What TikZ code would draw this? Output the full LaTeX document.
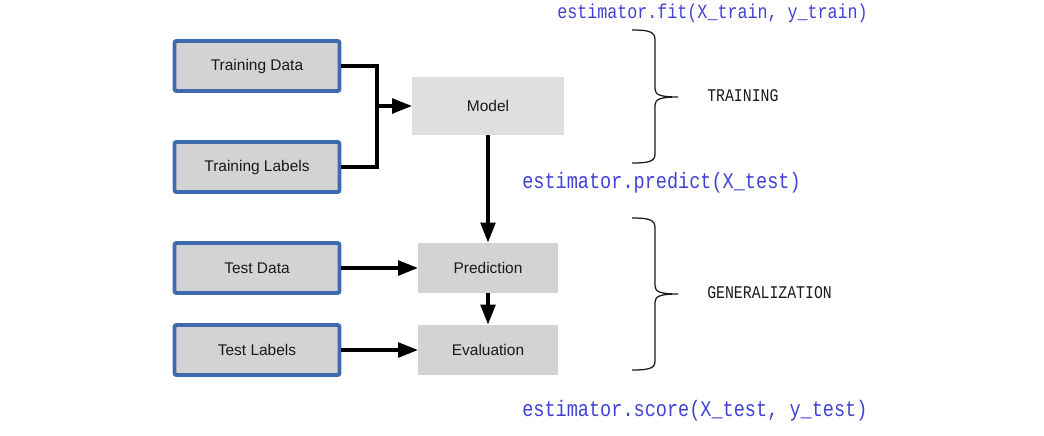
\documentclass[tikz,border=0pt]{standalone}
\usepackage{fontspec}
\setmainfont{Liberation Sans}
\newfontfamily\codefont[FakeStretch=0.83]{Liberation Mono}
\usetikzlibrary{arrows.meta}
\definecolor{ink}{HTML}{1A1A1A}
\definecolor{frameblue}{HTML}{3D6BAE}
\definecolor{boxgray}{HTML}{D3D3D3}
\definecolor{modelgray}{HTML}{DFDFDF}
\definecolor{codeblue}{HTML}{4141D6}
\tikzset{
  every node/.style={font=\fontsize{11pt}{13pt}\selectfont, text=ink},
  databox/.style={draw=frameblue, line width=2.8pt, rounded corners=1.5pt, fill=boxgray,
                  minimum width=4.125cm, minimum height=1.25cm},
  stagebox/.style={fill=boxgray, minimum width=3.475cm, minimum height=1.25cm},
  modelbox/.style={stagebox, fill=modelgray, minimum width=3.775cm, minimum height=1.425cm},
  wire/.style={line width=2.8pt, draw=black},
  arr/.style={wire, -{Triangle[length=5mm, width=3.6mm]}},
  grp/.style={line width=0.9pt, draw=ink},
  code/.style={font=\codefont\fontsize{15.9pt}{18pt}\selectfont, text=codeblue, anchor=west, inner sep=0pt},
  phase/.style={font=\codefont\fontsize{12.7pt}{15pt}\selectfont, text=ink, anchor=west, inner sep=0pt},
}

\begin{document}
\begin{tikzpicture}[x=0.025cm, y=-0.025cm]
\useasboundingbox (0,0) rectangle (1044,435);

% --- inputs ---
\node[databox] (traindata) at (257,66) {Training Data};
\node[databox] (trainlabels) at (257,167) {Training Labels};
\node[databox] (testdata) at (257,268) {Test Data};
\node[databox] (testlabels) at (257,350) {Test Labels};

% --- stages ---
\node[modelbox] (model) at (488,106) {Model};
\node[stagebox] (predict) at (488,268) {Prediction};
\node[stagebox] (evaluate) at (488,350) {Evaluation};

% --- arrows ---
\coordinate (join) at (377,106);
\draw[wire] (traindata.east) -| (join) |- (trainlabels.east);
\draw[arr] (join) -- (model.west);
\draw[arr] (model.south) -- (predict.north);
\draw[arr] (predict.south) -- (evaluate.north);
\draw[arr] (testdata.east) -- (predict.west);
\draw[arr] (testlabels.east) -- (evaluate.west);

% --- calls ---
\node[code, font=\codefont\fontsize{14.3pt}{16pt}\selectfont] (fitcall) at (557,13) {estimator.fit(X\_train, y\_train)};
\node[code] (predictcall) at (522,183) {estimator.predict(X\_test)};
\node[code] (scorecall) at (522,411) {estimator.score(X\_test, y\_test)};

% --- braces ---
\draw[grp] (632,30) .. controls (650,30) and (655,32) .. (655,40) -- (655,89)
  .. controls (655,95) and (661,97) .. (678,97)
  .. controls (661,97) and (655,99) .. (655,105) -- (655,154)
  .. controls (655,161) and (650,163) .. (632,163);
\draw[grp] (632,218) .. controls (650,218) and (655,220) .. (655,228) -- (655,286)
  .. controls (655,292) and (661,294) .. (678,294)
  .. controls (661,294) and (655,296) .. (655,302) -- (655,361)
  .. controls (655,368) and (650,370) .. (632,370);

\node[phase] (training) at (707,96) {TRAINING};
\node[phase] (general) at (707,293) {GENERALIZATION};

\end{tikzpicture}
\end{document}
